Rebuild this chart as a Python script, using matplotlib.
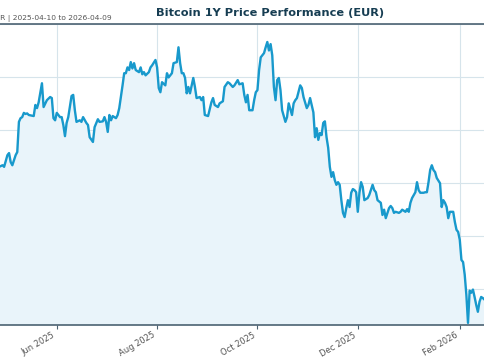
import pandas as pd
import matplotlib
matplotlib.use('Agg')
import matplotlib.pyplot as plt
import matplotlib.dates as mdates

# Bitcoin daily price in EUR
dates = [
    '2025-04-27', '2025-04-29', '2025-04-30', '2025-05-02', '2025-05-03', '2025-05-04', '2025-05-05',
    '2025-05-07', '2025-05-08', '2025-05-09', '2025-05-10', '2025-05-11', '2025-05-12', '2025-05-13',
    '2025-05-14', '2025-05-15', '2025-05-18', '2025-05-19', '2025-05-20', '2025-05-21', '2025-05-23',
    '2025-05-24', '2025-05-26', '2025-05-28', '2025-05-29', '2025-05-30', '2025-05-31',
    '2025-06-01', '2025-06-03', '2025-06-04', '2025-06-05', '2025-06-06', '2025-06-07', '2025-06-08',
    '2025-06-10', '2025-06-11', '2025-06-12', '2025-06-13', '2025-06-15', '2025-06-16', '2025-06-17',
    '2025-06-19', '2025-06-20', '2025-06-21', '2025-06-23', '2025-06-24', '2025-06-26', '2025-06-27',
    '2025-06-29', '2025-06-30',
    '2025-07-01', '2025-07-02', '2025-07-03', '2025-07-04', '2025-07-05', '2025-07-07', '2025-07-08',
    '2025-07-09', '2025-07-11', '2025-07-12', '2025-07-13', '2025-07-14', '2025-07-15', '2025-07-16',
    '2025-07-17', '2025-07-18', '2025-07-19', '2025-07-21', '2025-07-22', '2025-07-23', '2025-07-24',
    '2025-07-25', '2025-07-27', '2025-07-28', '2025-07-29', '2025-07-31',
    '2025-08-01', '2025-08-02', '2025-08-03', '2025-08-04', '2025-08-06', '2025-08-07', '2025-08-08',
    '2025-08-10', '2025-08-11', '2025-08-13', '2025-08-14', '2025-08-15', '2025-08-16', '2025-08-17',
    '2025-08-18', '2025-08-19', '2025-08-20', '2025-08-21', '2025-08-23', '2025-08-24', '2025-08-25',
    '2025-08-27', '2025-08-28', '2025-08-29', '2025-08-30',
    '2025-09-01', '2025-09-03', '2025-09-04', '2025-09-05', '2025-09-07', '2025-09-08', '2025-09-10',
    '2025-09-11', '2025-09-13', '2025-09-14', '2025-09-16', '2025-09-17', '2025-09-19', '2025-09-20',
    '2025-09-22', '2025-09-23', '2025-09-24', '2025-09-25', '2025-09-26', '2025-09-28', '2025-09-29',
    '2025-09-30',
    '2025-10-01', '2025-10-02', '2025-10-03', '2025-10-05', '2025-10-06', '2025-10-07', '2025-10-08',
    '2025-10-09', '2025-10-10', '2025-10-11', '2025-10-12', '2025-10-13', '2025-10-14', '2025-10-15',
    '2025-10-16', '2025-10-18', '2025-10-19', '2025-10-20', '2025-10-22', '2025-10-23', '2025-10-24',
    '2025-10-25', '2025-10-27', '2025-10-28', '2025-10-29', '2025-10-31',
    '2025-11-01', '2025-11-02', '2025-11-04', '2025-11-05', '2025-11-06', '2025-11-07', '2025-11-08',
    '2025-11-09', '2025-11-10', '2025-11-11', '2025-11-12', '2025-11-13', '2025-11-14', '2025-11-15',
    '2025-11-16', '2025-11-17', '2025-11-18', '2025-11-19', '2025-11-20', '2025-11-21', '2025-11-22',
    '2025-11-23', '2025-11-24', '2025-11-25', '2025-11-26', '2025-11-27', '2025-11-28', '2025-11-29',
    '2025-11-30',
    '2025-12-01', '2025-12-02', '2025-12-03', '2025-12-04', '2025-12-05', '2025-12-07', '2025-12-08',
    '2025-12-10', '2025-12-11', '2025-12-12', '2025-12-13', '2025-12-15', '2025-12-16', '2025-12-17',
    '2025-12-18', '2025-12-20', '2025-12-21', '2025-12-22', '2025-12-23', '2025-12-24', '2025-12-26',
    '2025-12-27', '2025-12-28', '2025-12-30', '2025-12-31',
    '2026-01-01', '2026-01-02', '2026-01-03', '2026-01-05', '2026-01-06', '2026-01-07', '2026-01-08',
    '2026-01-10', '2026-01-11', '2026-01-12', '2026-01-13', '2026-01-14', '2026-01-15', '2026-01-16',
    '2026-01-17', '2026-01-18', '2026-01-20', '2026-01-21', '2026-01-22', '2026-01-23', '2026-01-24',
    '2026-01-25', '2026-01-26', '2026-01-28', '2026-01-29', '2026-01-30', '2026-01-31',
    '2026-02-01', '2026-02-02', '2026-02-03', '2026-02-04', '2026-02-05', '2026-02-06', '2026-02-07',
    '2026-02-08', '2026-02-09', '2026-02-10', '2026-02-11', '2026-02-12', '2026-02-13', '2026-02-14',
    '2026-02-15', '2026-02-16', '2026-02-17',
]

prices = [
    83000, 83300, 83000, 85200, 85600, 83900, 83300, 85200, 85800, 91500, 92200, 92400, 93200, 93000,
    93100, 92800, 92600, 94700, 94100, 95200, 98800, 94300, 95600, 96200, 96000, 92200, 91800,
    93200, 92400, 92400, 90900, 88800, 91300, 92400, 96400, 96600, 93700, 91500, 91800, 91500, 92400,
    91300, 90900, 88600, 87700, 90500, 92000, 91500, 91600, 92400,
    91500, 89600, 92800, 91800, 92600, 92200, 92800, 94100, 98400, 100700, 100700, 101800, 101300,
    102800, 101600, 102600, 101300, 100900, 101800, 100500, 100900, 100300, 100900, 101800, 102200, 103200,
    101800, 97900, 97100, 99000, 98400, 100700, 99900, 100700, 102600, 102800, 105600, 102600, 100700,
    100700, 99800, 96900, 98100, 96900, 99800, 98100, 96000, 96200, 95600, 96200, 92800,
    92600, 95200, 96000, 94700, 94300, 95000, 95400, 98100, 99000, 98800, 98100, 98400, 99400, 98600,
    98800, 96600, 95200, 96600, 93700, 93700, 95600, 97100,
    97500, 101300, 103700, 104500, 105600, 106600, 105000, 106200, 104100, 98100, 95600, 99400, 99800,
    97500, 93700, 91500, 92400, 95000, 92800, 95000, 95600, 96000, 98400, 97900, 96200, 94100,
    94700, 96000, 93300, 88600, 90300, 88100, 89400, 89000, 91300, 91600, 88600, 86600, 83000, 81100,
    82000, 80500, 79600, 80100, 79600, 76700, 74300, 73500, 75200, 76700, 75400, 78100, 78800, 78600,
    78200,
    74500, 78100, 80100, 79200, 76700, 77100, 77700, 79600, 78600, 78200, 76700, 76200, 73900, 74900,
    73300, 75200, 75600, 75200, 74300, 74500, 74300, 74500, 74900, 74500, 75000,
    74500, 76200, 77100, 78200, 80100, 78600, 78100, 78100, 78200, 78200, 80100, 82400, 83300, 82400,
    82000, 80900, 79900, 75400, 76700, 76200, 75400, 73300, 74500, 74500, 72600, 71100, 70700,
    69200, 65400, 65000, 62600, 58800, 53500, 59600, 59200, 59800, 58400, 56900, 55600, 57500, 58400,
    58200, 57900, 57800,
]

grid_levels = [60000, 70000, 80000, 90000, 100000, 110000]

df = pd.DataFrame({'date': pd.to_datetime(dates), 'price': prices})

line_color = '#1899cc'
fill_color = '#e9f4fa'
spine_color = '#4b6272'

fig = plt.figure(figsize=(4.85, 3.6), dpi=100)
ax = fig.add_axes([0.0, 0.0972, 1.0, 0.8361])

ax.fill_between(df['date'], df['price'], 53100, color=fill_color, zorder=1)
ax.plot(df['date'], df['price'], color=line_color, linewidth=1.7, zorder=3)

ax.set_xlim(pd.Timestamp('2025-04-27 12:00'), pd.Timestamp('2026-02-16 08:00'))
ax.set_ylim(53100, 110000)

ax.xaxis.set_major_locator(mdates.MonthLocator(bymonth=[2, 6, 8, 10, 12]))
ax.xaxis.set_major_formatter(mdates.DateFormatter('%b %Y'))
ax.set_yticks(grid_levels)
ax.tick_params(axis='y', length=0, labelleft=False)
ax.tick_params(axis='x', length=3, width=0.8, color=spine_color, labelsize=6, labelcolor='#555555', pad=1)
for lab in ax.get_xticklabels():
    lab.set_rotation(30)
    lab.set_ha('right')

ax.grid(True, color='#d6e4eb', linewidth=0.8, zorder=0)
ax.set_axisbelow(True)

ax.spines['left'].set_visible(False)
ax.spines['right'].set_visible(False)
ax.spines['top'].set_color(spine_color)
ax.spines['bottom'].set_color(spine_color)
ax.spines['top'].set_linewidth(1.2)
ax.spines['bottom'].set_linewidth(1.2)

fig.text(270 / 485, 1 - 16 / 360, 'Bitcoin 1Y Price Performance (EUR)', ha='center', va='baseline',
         fontsize=8.2, fontweight='bold', color='#163d52')
fig.text(112 / 485, 1 - 20 / 360, 'EUR | 2025-04-10 to 2026-04-09', ha='right', va='baseline',
         fontsize=5.4, color='#555555')

fig.savefig('out.png', dpi=100)
